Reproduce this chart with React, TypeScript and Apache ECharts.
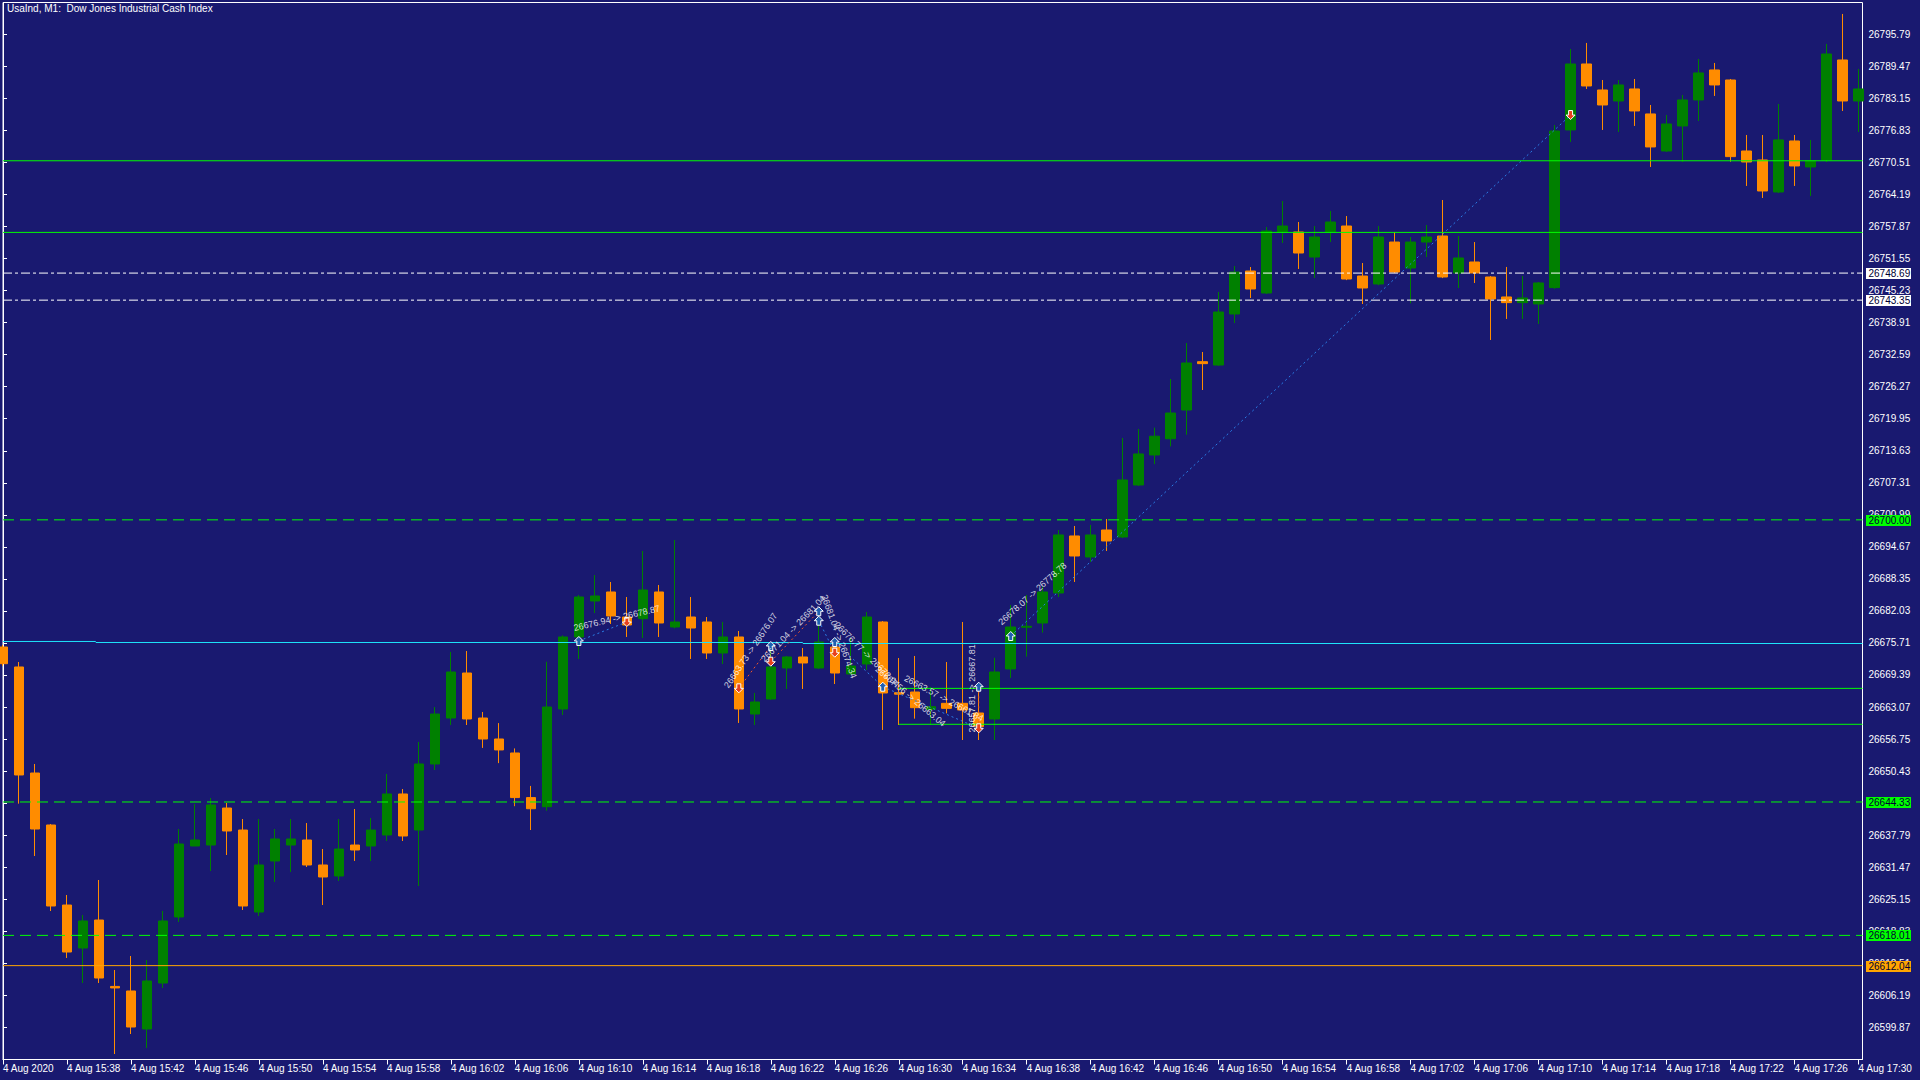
import React, { useEffect, useRef } from 'react';
import * as echarts from 'echarts';

const TITLE = 'UsaInd, M1:  Dow Jones Industrial Cash Index';

// One-minute candles, 4 Aug 2020 15:34 .. 17:30 (index 0..116)
const openP = [
  26674.91, 26670.97, 26650.05, 26639.79, 26624.0, 26615.52, 26621.04, 26607.94, 26607.04, 26599.54,
  26608.61, 26621.64, 26635.65, 26635.84, 26643.14, 26638.8, 26622.62, 26632.69, 26635.84, 26636.83,
  26631.9, 26629.73, 26635.84, 26635.65, 26637.82, 26645.91, 26638.8, 26651.83, 26660.9, 26669.78,
  26660.9, 26656.76, 26654.0, 26645.2, 26643.4, 26662.68, 26676.89, 26683.99, 26685.77, 26680.83,
  26680.5, 26685.77, 26678.86, 26680.83, 26679.85, 26673.73, 26676.89, 26661.69, 26664.65, 26670.77,
  26672.94, 26670.77, 26674.91, 26669.59, 26671.56, 26679.85, 26665.9, 26666.03, 26662.61, 26663.8,
  26663.8, 26661.89, 26660.71, 26670.58, 26678.8, 26679.65, 26685.57, 26696.82, 26692.67, 26698.0,
  26696.62, 26706.88, 26712.8, 26716.0, 26721.67, 26731.21, 26730.55, 26740.62, 26749.1, 26744.76,
  26756.8, 26756.8, 26751.86, 26756.8, 26757.98, 26748.11, 26746.54, 26754.82, 26749.69, 26754.82,
  26756.01, 26748.71, 26750.88, 26747.92, 26743.98, 26742.86, 26742.6, 26745.82, 26776.93, 26789.95,
  26784.82, 26782.65, 26785.02, 26780.09, 26772.78, 26777.72, 26782.85, 26788.77, 26786.79, 26772.78,
  26771.01, 26764.69, 26774.76, 26769.63, 26771.01, 26790.74, 26782.65,
];
const closeP = [
  26671.62, 26649.66, 26639.0, 26623.81, 26614.73, 26620.85, 26609.6, 26607.64, 26599.93, 26609.01,
  26620.85, 26636.04, 26636.83, 26643.74, 26638.61, 26623.81, 26631.9, 26637.03, 26637.03, 26631.9,
  26629.53, 26635.05, 26634.86, 26638.8, 26645.91, 26637.62, 26651.83, 26661.69, 26669.98, 26660.71,
  26656.76, 26654.6, 26645.2, 26643.0, 26663.07, 26676.89, 26684.78, 26684.98, 26681.03, 26679.25,
  26686.16, 26679.65, 26679.85, 26678.66, 26673.73, 26676.89, 26662.68, 26664.06, 26670.97, 26672.94,
  26671.76, 26675.9, 26669.78, 26671.16, 26680.83, 26665.84, 26665.6, 26662.94, 26663.14, 26662.81,
  26662.48, 26659.2, 26669.98, 26678.86, 26679.0, 26685.77, 26697.02, 26692.87, 26697.02, 26695.83,
  26707.87, 26713.0, 26716.5, 26721.08, 26730.95, 26730.82, 26741.01, 26748.9, 26745.55, 26756.99,
  26757.98, 26752.65, 26755.81, 26758.77, 26747.52, 26745.75, 26755.81, 26748.9, 26754.82, 26755.81,
  26747.92, 26751.67, 26748.71, 26743.58, 26742.86, 26743.78, 26746.74, 26776.73, 26789.95, 26785.61,
  26781.86, 26785.81, 26780.68, 26773.58, 26778.11, 26782.85, 26788.18, 26785.81, 26771.67, 26770.61,
  26764.89, 26774.96, 26769.83, 26770.81, 26791.92, 26782.65, 26785.02,
];
const lowP = [
  26671.2, 26644.0, 26633.67, 26622.82, 26613.55, 26608.61, 26608.61, 26594.6, 26598.55, 26595.79,
  26607.63, 26620.65, 26635.65, 26630.71, 26633.87, 26623.02, 26621.83, 26628.54, 26630.52, 26631.5,
  26624.0, 26628.74, 26632.69, 26632.69, 26636.63, 26636.63, 26627.75, 26650.64, 26659.52, 26659.52,
  26655.0, 26652.0, 26643.5, 26638.8, 26642.6, 26661.5, 26672.55, 26681.62, 26679.45, 26676.89,
  26676.69, 26676.89, 26678.6, 26672.55, 26672.55, 26671.56, 26659.92, 26659.52, 26664.5, 26666.63,
  26666.63, 26670.6, 26667.61, 26669.4, 26670.38, 26658.54, 26659.52, 26660.77, 26659.52, 26661.82,
  26656.56, 26656.56, 26656.56, 26668.8, 26673.01, 26677.74, 26684.78, 26687.74, 26691.69, 26693.86,
  26696.4, 26706.7, 26711.0, 26714.5, 26716.8, 26725.62, 26730.4, 26738.84, 26743.77, 26744.56,
  26754.63, 26749.5, 26747.72, 26754.82, 26747.3, 26742.59, 26746.3, 26748.7, 26742.72, 26751.86,
  26747.7, 26745.75, 26746.73, 26735.49, 26739.64, 26739.64, 26738.65, 26745.6, 26774.56, 26785.02,
  26776.93, 26776.53, 26777.72, 26769.63, 26772.59, 26770.61, 26778.7, 26783.64, 26770.68, 26765.88,
  26763.51, 26764.5, 26765.88, 26763.91, 26770.6, 26780.68, 26776.53,
];
const highP = [
  26675.3, 26671.95, 26651.83, 26639.99, 26625.98, 26622.03, 26628.94, 26611.18, 26613.94, 26613.15,
  26622.82, 26639.0, 26643.93, 26645.12, 26644.13, 26640.97, 26640.97, 26639.0, 26640.97, 26640.18,
  26635.05, 26640.97, 26642.95, 26641.17, 26649.85, 26646.89, 26656.17, 26663.07, 26673.93, 26674.12,
  26662.09, 26659.9, 26654.9, 26647.5, 26672.0, 26677.2, 26685.17, 26689.12, 26687.74, 26684.78,
  26693.86, 26687.15, 26696.03, 26684.78, 26680.83, 26679.85, 26678.07, 26665.84, 26674.32, 26673.14,
  26674.72, 26681.5, 26676.3, 26676.69, 26681.82, 26680.04, 26672.74, 26673.14, 26667.02, 26671.95,
  26679.85, 26667.42, 26672.78, 26683.2, 26685.18, 26686.82, 26698.0, 26698.79, 26698.99, 26700.17,
  26716.16, 26717.93, 26718.2, 26727.79, 26734.89, 26733.12, 26744.96, 26750.09, 26749.89, 26757.78,
  26762.91, 26758.77, 26757.98, 26760.94, 26759.95, 26750.68, 26757.98, 26756.8, 26755.81, 26758.18,
  26763.11, 26756.01, 26754.82, 26748.1, 26749.9, 26748.12, 26746.94, 26777.92, 26792.91, 26794.1,
  26786.79, 26786.79, 26786.99, 26781.86, 26779.89, 26783.83, 26790.94, 26790.15, 26786.99, 26775.94,
  26775.94, 26782.06, 26775.94, 26774.96, 26793.9, 26799.82, 26788.97,
];

const xTickIndex = [0, 4, 8, 12, 16, 20, 24, 28, 32, 36, 40, 44, 48, 52, 56, 60, 64, 68, 72, 76, 80, 84, 88, 92, 96, 100, 104, 108, 112, 116];
const xTickLabels = [
  '4 Aug 2020', '4 Aug 15:38', '4 Aug 15:42', '4 Aug 15:46', '4 Aug 15:50', '4 Aug 15:54', '4 Aug 15:58',
  '4 Aug 16:02', '4 Aug 16:06', '4 Aug 16:10', '4 Aug 16:14', '4 Aug 16:18', '4 Aug 16:22', '4 Aug 16:26',
  '4 Aug 16:30', '4 Aug 16:34', '4 Aug 16:38', '4 Aug 16:42', '4 Aug 16:46', '4 Aug 16:50', '4 Aug 16:54',
  '4 Aug 16:58', '4 Aug 17:02', '4 Aug 17:06', '4 Aug 17:10', '4 Aug 17:14', '4 Aug 17:18', '4 Aug 17:22',
  '4 Aug 17:26', '4 Aug 17:30',
];
const yTickValues = [
  26599.87, 26606.19, 26612.51, 26618.83, 26625.15, 26631.47, 26637.79, 26644.11, 26650.43, 26656.75,
  26663.07, 26669.39, 26675.71, 26682.03, 26688.35, 26694.67, 26700.99, 26707.31, 26713.63, 26719.95,
  26726.27, 26732.59, 26738.91, 26745.23, 26751.55, 26757.87, 26764.19, 26770.51, 26776.83, 26783.15,
  26789.47, 26795.79,
];

// horizontal levels
const solidGreenLevels = [26770.85, 26756.72];
const dashDotWhiteLevels = [26748.69, 26743.35];
const dashedGreenLevels = [26700.0, 26644.33, 26618.01];
const orangeLevels = [26612.04];
const boxLevels = [26666.75, 26659.66];
const boxStart = 56;
const cyanStarts = [0, 5.8, 50];
const cyanEnds = [5.8, 50, 116.25];
const cyanValues = [26676.0, 26675.8, 26675.6];

const tagValues = [26748.69, 26743.35, 26700.0, 26644.33, 26618.01, 26612.04];
const tagKinds = ['white', 'white', 'green', 'green', 'green', 'orange'];

// trades
const upArrowK = [36, 48, 51, 51, 52, 55, 61, 63];
const upArrowP = [26676.1, 26675.11, 26681.96, 26680.1, 26675.9, 26667.08, 26667.08, 26677.08];
const downArrowK = [39, 46, 48, 52, 61, 98];
const downArrowP = [26679.85, 26666.76, 26672.01, 26673.79, 26658.87, 26779.87];

const blueTradeFrom = [[36, 26676.1], [51, 26680.1], [52, 26675.9], [55, 26667.08], [63, 26677.08]];
const blueTradeTo = [[39, 26679.85], [52, 26673.79], [55, 26667.08], [61, 26658.87], [98, 26779.87]];
const redTradeFrom = [[46, 26666.76], [48, 26672.01], [61, 26658.87]];
const redTradeTo = [[48, 26675.11], [51, 26681.96], [61, 26667.08]];

const noteTexts = [
  '26676.94 -> 26678.87', '26663.73 -> 26676.07', '26671.04 -> 26681.04', '26681.04 -> 26674.34',
  '26676.77 -> 26672.94', '26667.56 -> 26663.04', '26663.57 -> 26661.84', '26657.81 -> 26667.81',
  '26678.07 -> 26778.78',
];
const noteK = [35.78, 45.47, 47.72, 51.09, 51.9, 54.47, 56.28, 60.9, 62.53];
const noteP = [26677.68, 26666.43, 26671.56, 26684.78, 26678.86, 26669.99, 26668.0, 26657.95, 26678.86];
const noteAngle = [13, 56, 46, -70, -45, -40, -28, 90, 42];

const X_MIN = 0;
const X_MAX = 116.25;
const Y_MIN = 26593.52;
const Y_MAX = 26802.08;

const BG = '#191970';
const FONT = '"Liberation Sans", Arial, sans-serif';

const UP_PATH = 'path://M4.5,0 L9,4.5 L6.5,4.5 L6.5,9 L2.5,9 L2.5,4.5 L0,4.5 Z';
const DOWN_PATH = 'path://M2.5,0 L6.5,0 L6.5,4.5 L9,4.5 L4.5,9 L0,4.5 L2.5,4.5 Z';

function hLine(name: string, x0: number, x1: number, v: number, color: string, type: any, z = 3) {
  return {
    name,
    type: 'line',
    data: [[x0, v], [x1, v]],
    symbol: 'none',
    silent: true,
    z,
    lineStyle: { color, width: 1, type },
  };
}

function buildOption() {
  const candles = openP.map((o, i) => [i, o, closeP[i], lowP[i], highP[i]]);
  const series: any[] = [
    {
      type: 'candlestick',
      data: candles,
      barWidth: 10,
      z: 2,
      itemStyle: {
        color: '#008000',
        color0: '#FF8C00',
        borderColor: '#008000',
        borderColor0: '#FF8C00',
        borderWidth: 1,
      },
    },
  ];
  solidGreenLevels.forEach((v, i) => series.push(hLine('sg' + i, X_MIN, X_MAX, v, '#00FF00', 'solid')));
  dashDotWhiteLevels.forEach((v, i) => series.push(hLine('dd' + i, X_MIN, X_MAX, v, '#FFFFFF', [9, 3, 3, 3])));
  dashedGreenLevels.forEach((v, i) => series.push(hLine('dg' + i, X_MIN, X_MAX, v, '#00FF00', [11, 6])));
  orangeLevels.forEach((v, i) => series.push(hLine('or' + i, X_MIN, X_MAX, v, '#FFA500', 'solid')));
  boxLevels.forEach((v, i) => series.push(hLine('bx' + i, boxStart, X_MAX, v, '#00FF00', 'solid')));
  cyanValues.forEach((v, i) => series.push(hLine('cy' + i, cyanStarts[i], cyanEnds[i], v, '#1EE3FA', 'solid')));

  blueTradeFrom.forEach((f, i) => series.push({
    type: 'line', data: [f, blueTradeTo[i]], symbol: 'none', silent: true, z: 4,
    lineStyle: { color: '#2A7FE8', width: 1, type: [2, 3] },
  }));
  redTradeFrom.forEach((f, i) => series.push({
    type: 'line', data: [f, redTradeTo[i]], symbol: 'none', silent: true, z: 4,
    lineStyle: { color: '#F0552A', width: 1, type: [2, 3] },
  }));

  series.push({
    type: 'scatter', z: 6, silent: true,
    data: upArrowK.map((k, i) => [k, upArrowP[i]]),
    symbol: UP_PATH, symbolSize: 9, symbolKeepAspect: true,
    itemStyle: { color: '#1F5FB0', borderColor: '#FFFFFF', borderWidth: 1, opacity: 1 },
  });
  series.push({
    type: 'scatter', z: 6, silent: true,
    data: downArrowK.map((k, i) => [k, downArrowP[i]]),
    symbol: DOWN_PATH, symbolSize: 9, symbolKeepAspect: true,
    itemStyle: { color: '#E8401C', borderColor: '#FFFFFF', borderWidth: 1, opacity: 1 },
  });
  series.push({
    type: 'scatter', z: 7, silent: true,
    symbolSize: 1,
    itemStyle: { color: 'rgba(0,0,0,0)' },
    data: noteTexts.map((t, i) => ({
      value: [noteK[i], noteP[i]],
      label: {
        show: true,
        formatter: t,
        rotate: noteAngle[i],
        position: [0, 0],
        align: 'left',
        verticalAlign: 'bottom',
        color: '#FFFFFF',
        fontSize: 9,
        fontFamily: FONT,
      },
    })),
  });

  return {
    animation: false,
    backgroundColor: BG,
    title: {
      text: TITLE,
      left: 7,
      top: 3,
      padding: 0,
      textStyle: { color: '#FFFFFF', fontSize: 10, fontWeight: 'normal', fontFamily: FONT },
    },
    grid: {
      left: 2.5,
      top: 2.5,
      right: 57.5,
      bottom: 20.5,
      show: true,
      borderColor: '#FFFFFF',
      borderWidth: 1,
      backgroundColor: 'transparent',
    },
    xAxis: {
      type: 'value',
      min: X_MIN,
      max: X_MAX,
      splitLine: { show: false },
      axisLine: { show: true, lineStyle: { color: '#FFFFFF', width: 1 } },
      axisTick: { show: true, length: 5, lineStyle: { color: '#FFFFFF' }, customValues: xTickIndex },
      axisLabel: {
        show: true,
        customValues: xTickIndex,
        color: '#FFFFFF',
        fontSize: 10,
        fontFamily: FONT,
        align: 'left',
        margin: 4,
        formatter: (v: number) => {
          const idx = xTickIndex.indexOf(Math.round(v));
          return idx >= 0 ? xTickLabels[idx] : '';
        },
      },
    },
    yAxis: {
      type: 'value',
      position: 'right',
      min: Y_MIN,
      max: Y_MAX,
      scale: true,
      splitLine: { show: false },
      axisLine: { show: true, lineStyle: { color: '#FFFFFF', width: 1 } },
      axisTick: { show: true, length: 4, lineStyle: { color: '#FFFFFF' }, customValues: yTickValues },
      axisLabel: {
        show: true,
        customValues: yTickValues,
        color: '#FFFFFF',
        fontSize: 10,
        fontFamily: FONT,
        margin: 6,
        formatter: (v: number) => v.toFixed(2),
      },
    },
    series,
  };
}

const TAG_FILL: Record<string, string> = { white: '#FFFFFF', green: '#00FF00', orange: '#FFA500' };

export default function App() {
  const ref = useRef<HTMLDivElement>(null);
  useEffect(() => {
    if (!ref.current) return;
    const chart = echarts.init(ref.current, null, { renderer: 'svg' });
    chart.setOption(buildOption() as any);
    const xr = chart.convertToPixel({ xAxisIndex: 0 } as any, X_MAX) as number;
    const graphics = tagValues.map((v, i) => {
      const y = Math.round(chart.convertToPixel({ yAxisIndex: 0 } as any, v) as number);
      return {
        type: 'group',
        z: 100,
        children: [
          {
            type: 'rect',
            z: 100,
            shape: { x: xr + 3.5, y: y - 5, width: 45, height: 11 },
            style: { fill: TAG_FILL[tagKinds[i]] },
          },
          {
            type: 'text',
            z: 101,
            x: xr + 6,
            y: y + 0.5,
            style: {
              text: v.toFixed(2),
              fill: '#000033',
              fontSize: 10,
              fontFamily: FONT,
              verticalAlign: 'middle',
              align: 'left',
            },
          },
        ],
      };
    });
    chart.setOption({ graphic: graphics } as any);
    return () => chart.dispose();
  }, []);
  return (
    <div
      ref={ref}
      style={{ position: 'fixed', left: 0, top: 0, width: 1920, height: 1080, background: BG }}
    />
  );
}
